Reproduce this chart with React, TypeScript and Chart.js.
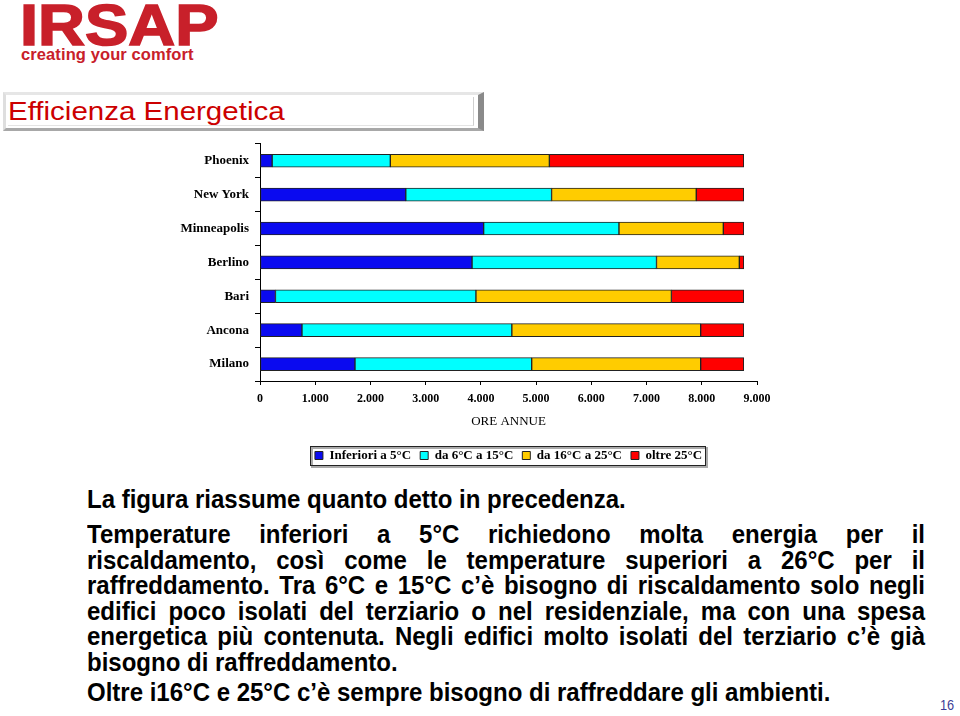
import React, { useEffect, useRef } from "react";
import { Chart, registerables } from "chart.js";
Chart.register(...registerables);

const cities = ["Phoenix", "New York", "Minneapolis", "Berlino", "Bari", "Ancona", "Milano"];
const below5 = [220, 2640, 4050, 3840, 280, 760, 1720];
const from6to15 = [2140, 2640, 2450, 3340, 3630, 3800, 3200];
const from16to25 = [2880, 2620, 1890, 1500, 3540, 3420, 3060];
const over25 = [3520, 860, 370, 80, 1310, 780, 780];
const seriesLabels = ["Inferiori a 5°C", "da 6°C a 15°C", "da 16°C a 25°C", "oltre 25°C"];
const seriesColors = ["#0A0AF0", "#00FFFF", "#FFCC00", "#FF0000"];
const xTickLabels = ["0", "1.000", "2.000", "3.000", "4.000", "5.000", "6.000", "7.000", "8.000", "9.000"];
const xTitle = "ORE ANNUE";

const SERIF = "'Liberation Serif', 'Times New Roman', serif";

const legendBox = {
  id: "legendBox",
  afterDraw(chart: any) {
    const boxes = chart.legend && chart.legend.legendHitBoxes;
    if (!boxes || !boxes.length) return;
    let l = Infinity, t = Infinity, r = -Infinity, b = -Infinity;
    for (const h of boxes) {
      l = Math.min(l, h.left);
      t = Math.min(t, h.top);
      r = Math.max(r, h.left + h.width);
      b = Math.max(b, h.top + h.height);
    }
    const ctx = chart.ctx;
    const x = Math.round(l - 5);
    const y = Math.round(t - 3);
    const w = Math.round(r - l + 8);
    const h = Math.round(b - t + 6);
    ctx.save();
    ctx.strokeStyle = "#aaa";
    ctx.lineWidth = 2;
    ctx.strokeRect(x + 2, y + 2, w, h);
    ctx.strokeStyle = "#222";
    ctx.lineWidth = 1;
    ctx.strokeRect(x + 0.5, y + 0.5, w, h);
    ctx.restore();
  },
};

function BarChart() {
  const ref = useRef<HTMLCanvasElement>(null);
  useEffect(() => {
    if (!ref.current) return;
    const data = [below5, from6to15, from16to25, over25];
    const chart = new Chart(ref.current, {
      type: "bar",
      data: {
        labels: cities,
        datasets: data.map((d, i) => ({
          label: seriesLabels[i],
          data: d,
          backgroundColor: seriesColors[i],
          borderColor: "#222",
          borderWidth: 1,
          borderSkipped: false,
          barThickness: 13,
        })),
      },
      options: {
        indexAxis: "y",
        animation: false,
        responsive: false,
        maintainAspectRatio: false,
        layout: { padding: { top: 5, right: 43, left: 0, bottom: 10 } },
        plugins: {
          tooltip: { enabled: false },
          legend: {
            position: "bottom",
            fullSize: false,
            labels: {
              boxWidth: 8,
              boxHeight: 8,
              padding: 9,
              color: "#000",
              font: { family: SERIF, size: 13, weight: "bold" },
            },
          },
        },
        scales: {
          x: {
            stacked: true,
            min: 0,
            max: 9000,
            ticks: {
              stepSize: 1000,
              autoSkip: false,
              maxRotation: 0,
              color: "#000",
              padding: 7,
              font: { family: SERIF, size: 12, weight: "bold" },
              callback: (_v: any, i: number) => xTickLabels[i],
            },
            grid: { display: true, drawOnChartArea: false, drawTicks: true, tickLength: 4, color: "#000" },
            border: { display: true, color: "#000", width: 1 },
            title: {
              display: true,
              text: xTitle,
              color: "#000",
              font: { family: SERIF, size: 13 },
              padding: { top: 0, bottom: 11 },
            },
          },
          y: {
            stacked: true,
            afterFit: (s: any) => {
              s.width = 100;
            },
            ticks: { color: "#000", padding: 6, font: { family: SERIF, size: 13, weight: "bold" } },
            grid: { display: true, drawOnChartArea: false, drawTicks: true, tickLength: 5, color: "#000", offset: true },
            border: { display: true, color: "#000", width: 1 },
          },
        },
      },
      plugins: [legendBox],
    } as any);
    return () => chart.destroy();
  }, []);
  return <canvas ref={ref} width={640} height={352} style={{ position: "absolute", left: 160, top: 130 }} />;
}

const firstLine = "La figura riassume quanto detto in precedenza.";
const bodyLines = [
  "Temperature inferiori a 5°C richiedono molta energia per il",
  "riscaldamento, così come le temperature superiori a 26°C per il",
  "raffreddamento. Tra  6°C e 15°C c’è bisogno di riscaldamento solo negli",
  "edifici poco isolati del terziario o nel residenziale, ma con una spesa",
  "energetica più contenuta.  Negli edifici molto isolati del terziario c’è già",
  "bisogno di raffreddamento.",
];
const lastLine = "Oltre i16°C e 25°C c’è sempre bisogno di raffreddare gli ambienti.";

const SANS = "'Liberation Sans', Arial, sans-serif";
const SQUEEZE = 0.96;

export default function App() {
  const lineStyle: React.CSSProperties = {
    height: 25.6,
    lineHeight: "25.6px",
    whiteSpace: "nowrap",
  };
  return (
    <div
      style={{
        position: "fixed",
        left: 0,
        top: 0,
        width: 960,
        height: 716,
        background: "#fff",
        overflow: "hidden",
        fontFamily: SANS,
      }}
    >
      {/* Logo */}
      <div
        style={{
          position: "absolute",
          left: 20,
          top: -5,
          fontSize: 58,
          fontWeight: 900,
          color: "#C8202A",
          lineHeight: "60px",
          WebkitTextStroke: "1.6px #C8202A",
          transform: "scaleX(1.12)",
          transformOrigin: "left",
        }}
      >
        IRSAP
      </div>
      <div
        style={{
          position: "absolute",
          left: 21,
          top: 45,
          fontSize: 16.5,
          fontWeight: 700,
          color: "#C8202A",
          lineHeight: "18px",
          letterSpacing: 0.1,
        }}
      >
        creating your comfort
      </div>
      {/* Title box */}
      <div
        style={{
          position: "absolute",
          left: 3,
          top: 92,
          width: 472,
          height: 33,
          borderTop: "3px solid #e6e6e6",
          borderLeft: "3px solid #dedede",
          borderBottom: "3px solid #a8a8a8",
          borderRight: "6px solid #8a8a8a",
          background: "#fff",
        }}
      >
        <div
          style={{
            position: "absolute",
            left: 2,
            top: 2,
            right: 4,
            bottom: 2,
            borderRight: "1px solid #cfcfcf",
            borderBottom: "1px solid #e4e4e4",
          }}
        />
        <div
          style={{
            position: "absolute",
            left: 2,
            top: 3,
            fontSize: 25,
            color: "#CC0000",
            lineHeight: "27px",
            whiteSpace: "nowrap",
            transform: "scaleX(1.18)",
            transformOrigin: "left",
          }}
        >
          Efficienza Energetica
        </div>
      </div>
      <BarChart />
      {/* Body text */}
      <div
        style={{
          position: "absolute",
          left: 87,
          top: 486,
          width: 838 / SQUEEZE,
          fontFamily: SANS,
          fontSize: 25,
          fontWeight: 700,
          color: "#000",
          transform: `scaleX(${SQUEEZE})`,
          transformOrigin: "left top",
        }}
      >
        <div style={{ whiteSpace: "nowrap", height: 36, lineHeight: "26px" }}>{firstLine}</div>
        {bodyLines.map((l, i) => (
          <div
            key={i}
            style={{
              ...lineStyle,
              textAlign: i < bodyLines.length - 1 ? "justify" : "left",
              textAlignLast: i < bodyLines.length - 1 ? "justify" : "left",
            }}
          >
            {l}
          </div>
        ))}
        <div style={{ height: 4.7 }} />
        <div style={{ ...lineStyle }}>{lastLine}</div>
      </div>
      <div
        style={{
          position: "absolute",
          left: 940,
          top: 696,
          fontFamily: SANS,
          fontSize: 15,
          lineHeight: "18px",
          color: "#3C3C96",
          transform: "scaleX(0.85)",
          transformOrigin: "left",
        }}
      >
        16
      </div>
    </div>
  );
}
